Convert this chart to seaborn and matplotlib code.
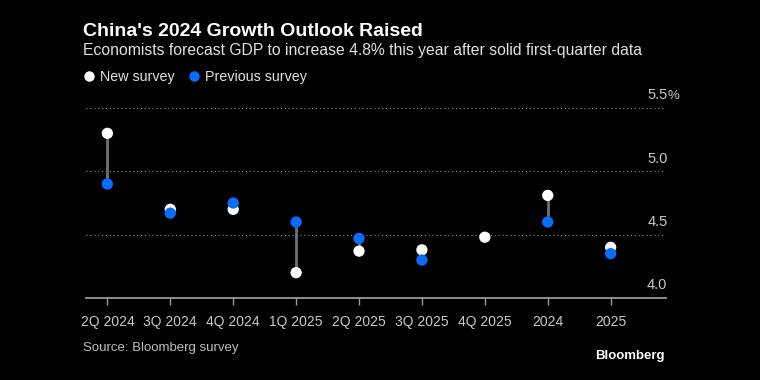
import numpy as np
import pandas as pd
import matplotlib
matplotlib.use("Agg")
import matplotlib.pyplot as plt
import matplotlib.transforms as mtransforms
from matplotlib.lines import Line2D
import seaborn as sns

periods = ["2Q 2024", "3Q 2024", "4Q 2024", "1Q 2025", "2Q 2025",
           "3Q 2025", "4Q 2025", "2024", "2025"]
new_survey = [5.3, 4.7, 4.7, 4.2, 4.37, 4.38, 4.48, 4.81, 4.4]
previous_survey = [4.9, 4.67, 4.75, 4.6, 4.47, 4.3, np.nan, 4.6, 4.35]
y_ticks = [4.0, 4.5, 5.0, 5.5]
y_tick_labels = ["4.0", "4.5", "5.0", "5.5"]

BG = "black"
BLUE = "#0a6cff"
GREY_TXT = "#c8c8c8"

sns.set_theme(style="dark")
plt.rcParams["font.family"] = ["Liberation Sans", "DejaVu Sans"]

df = pd.DataFrame({"period": periods, "New survey": new_survey,
                   "Previous survey": previous_survey})
df["x"] = np.arange(len(periods))

fig = plt.figure(figsize=(7.6, 3.8), dpi=100, facecolor=BG)
ax = fig.add_axes([86 / 760, 1 - 298 / 380, 580 / 760, 190 / 380])
ax.set_facecolor(BG)

# connector lines between the two surveys
both = df.dropna()
ax.vlines(both["x"], both["New survey"], both["Previous survey"],
          color="#707070", linewidth=2, zorder=1)

sns.scatterplot(data=df, x="x", y="New survey", color="white", s=66,
                edgecolor="none", ax=ax, zorder=2)
sns.scatterplot(data=df, x="x", y="Previous survey", color=BLUE, s=66,
                edgecolor="none", ax=ax, zorder=3)

ax.set_xlim(-0.34, 8.88)
ax.set_ylim(4.0, 5.5)
ax.set_xlabel("")
ax.set_ylabel("")
ax.grid(False)
for sp in ["top", "right", "left"]:
    ax.spines[sp].set_visible(False)
ax.spines["bottom"].set_color("#9a9a9a")
ax.spines["bottom"].set_linewidth(1.3)

for v in y_ticks[1:]:
    ax.axhline(v, color="#8a8a8a", linestyle=(0, (1, 2.5)), linewidth=0.8, zorder=0)

trans = mtransforms.blended_transform_factory(ax.transAxes, ax.transData)
for v, lab in zip(y_ticks, y_tick_labels):
    ax.annotate(lab, xy=(1.0, v), xycoords=trans, xytext=(1, 4),
                textcoords="offset points", ha="right", va="bottom",
                color=GREY_TXT, fontsize=10.5)
ax.annotate("%", xy=(1.0, y_ticks[-1]), xycoords=trans, xytext=(1, 4),
            textcoords="offset points", ha="left", va="bottom",
            color=GREY_TXT, fontsize=9.5)
ax.set_yticks([])

ax.set_xticks(df["x"])
ax.set_xticklabels(periods, color=GREY_TXT, fontsize=10)
ax.tick_params(axis="x", bottom=True, length=5, width=1, color="#9a9a9a", pad=7)

fig.text(83 / 760, 1 - 31 / 380, "China's 2024 Growth Outlook Raised",
         color="white", fontsize=14, fontweight="bold", va="center")
fig.text(83 / 760, 1 - 50 / 380,
         "Economists forecast GDP to increase 4.8% this year after solid first-quarter data",
         color="#e0e0e0", fontsize=11.3, va="center")

handles = [Line2D([], [], marker="o", linestyle="", markersize=7.5,
                  markerfacecolor="white", markeredgecolor="none"),
           Line2D([], [], marker="o", linestyle="", markersize=7.5,
                  markerfacecolor=BLUE, markeredgecolor="none")]
fig.legend(handles, ["New survey", "Previous survey"], loc="center left",
           bbox_to_anchor=(69 / 760, 1 - 77 / 380), ncol=2, frameon=False,
           labelcolor="#e0e0e0", fontsize=10.3, handletextpad=0.3,
           columnspacing=0.8, handlelength=1.0)

fig.text(83 / 760, 1 - 348 / 380, "Source: Bloomberg survey",
         color="#bdbdbd", fontsize=9.5, va="center")
fig.text(665 / 760, 1 - 356 / 380, "Bloomberg", color="white",
         fontsize=9.5, fontweight="bold", va="center", ha="right")

fig.savefig("out.png", dpi=100, facecolor=BG)
